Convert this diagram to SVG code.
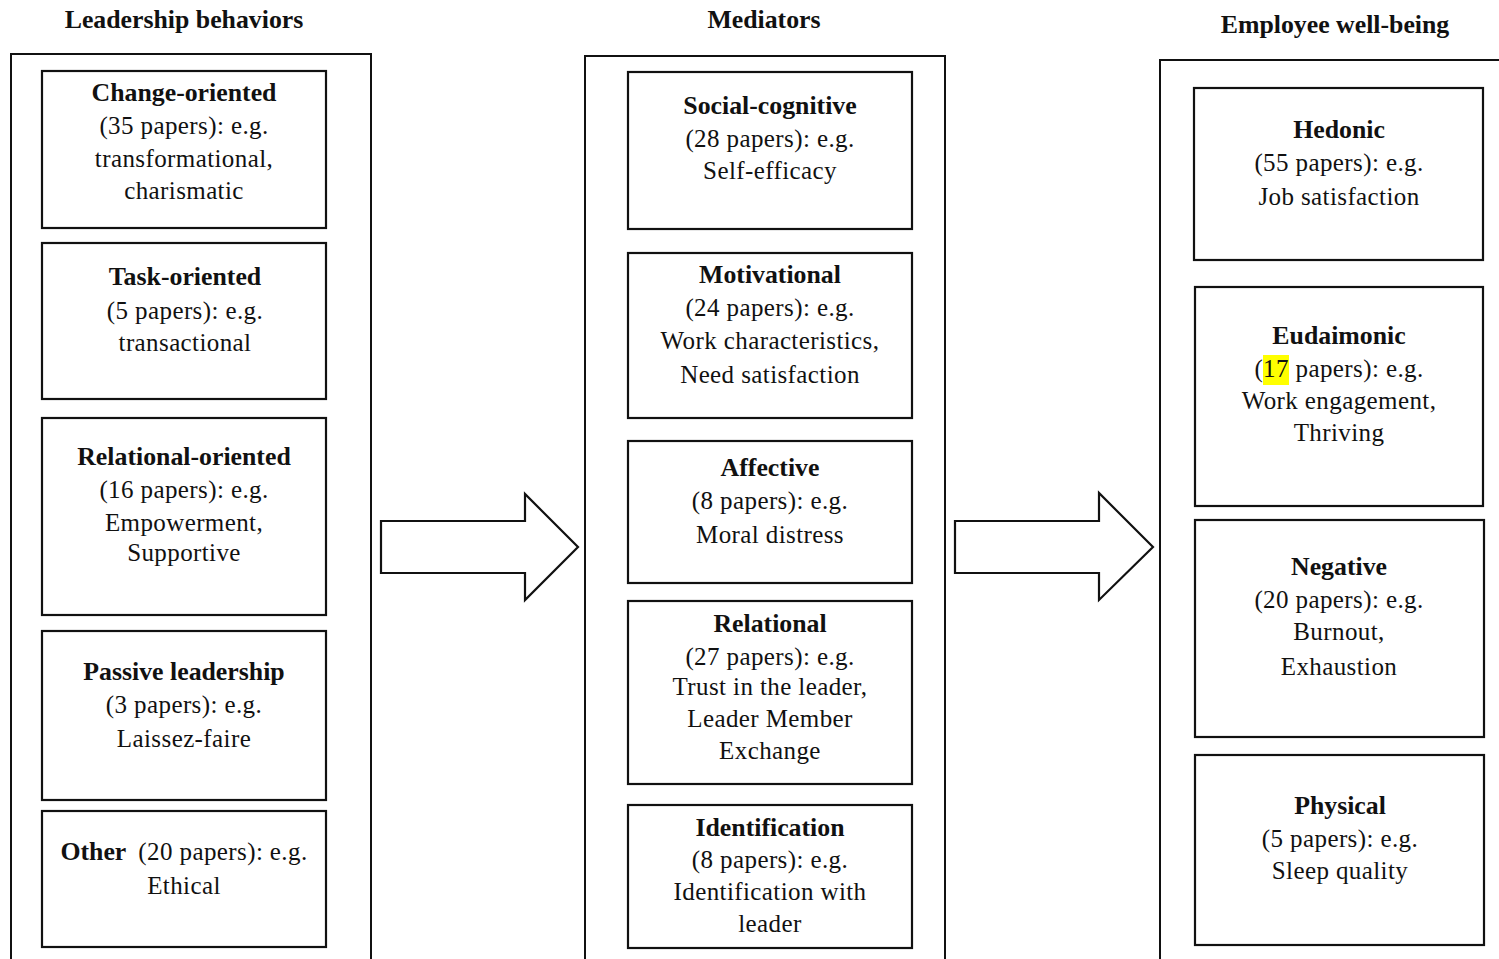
<svg xmlns="http://www.w3.org/2000/svg" width="1499" height="959" viewBox="0 0 1499 959">
<style>
.outer{fill:none;stroke:#111;stroke-width:2}
.box{fill:#fff;stroke:#111;stroke-width:2.2}
.arrow{fill:#fff;stroke:#111;stroke-width:2.2;stroke-linejoin:miter}
text{font-family:"Liberation Serif","Times New Roman",serif;fill:#111;text-anchor:middle}
.h{font-size:25.8px;font-weight:bold}
.t{font-size:25.8px;font-weight:bold}
.b{font-size:25px;letter-spacing:0.4px}
</style>
<rect width="1499" height="959" fill="#fff"/>
<g id="headers">
<text class="h" x="184" y="28">Leadership behaviors</text>
<text class="h" x="764" y="28">Mediators</text>
<text class="h" x="1335" y="33">Employee well-being</text>
</g>
<g id="columns">
<path class="outer" d="M11,970 V54 H371 V970"/>
<path class="outer" d="M585,970 V56 H945 V970"/>
<path class="outer" d="M1160,970 V60 H1510"/>
</g>
<g id="connectors">
<path class="arrow" d="M381,521 H525 V494 L578,547 L525,600 V573 H381 Z"/>
<path class="arrow" d="M955,521 H1099 V493 L1153,547 L1099,600 V573 H955 Z"/>
</g>
<g id="change-oriented">
<rect class="box" x="42" y="71" width="284" height="157"/>
<text class="t" x="184" y="101">Change-oriented</text>
<text class="b" x="184" y="134">(35 papers): e.g.</text>
<text class="b" x="184" y="167">transformational,</text>
<text class="b" x="184" y="199">charismatic</text>
</g>
<g id="task-oriented">
<rect class="box" x="42" y="243" width="284" height="156"/>
<text class="t" x="185" y="285">Task-oriented</text>
<text class="b" x="185" y="319">(5 papers): e.g.</text>
<text class="b" x="185" y="351">transactional</text>
</g>
<g id="relational-oriented">
<rect class="box" x="42" y="418" width="284" height="197"/>
<text class="t" x="184" y="465">Relational-oriented</text>
<text class="b" x="184" y="498">(16 papers): e.g.</text>
<text class="b" x="184" y="531">Empowerment,</text>
<text class="b" x="184" y="561">Supportive</text>
</g>
<g id="passive-leadership">
<rect class="box" x="42" y="631" width="284" height="169"/>
<text class="t" x="184" y="680">Passive leadership</text>
<text class="b" x="184" y="713">(3 papers): e.g.</text>
<text class="b" x="184" y="747">Laissez-faire</text>
</g>
<g id="other">
<rect class="box" x="42" y="811" width="284" height="136"/>
<text x="184" y="860"><tspan class="t">Other</tspan><tspan class="b" dx="12">(20 papers): e.g.</tspan></text>
<text class="b" x="184" y="894">Ethical</text>
</g>
<g id="social-cognitive">
<rect class="box" x="628" y="72" width="284" height="157"/>
<text class="t" x="770" y="114">Social-cognitive</text>
<text class="b" x="770" y="147">(28 papers): e.g.</text>
<text class="b" x="770" y="179">Self-efficacy</text>
</g>
<g id="motivational">
<rect class="box" x="628" y="253" width="284" height="165"/>
<text class="t" x="770" y="283">Motivational</text>
<text class="b" x="770" y="316">(24 papers): e.g.</text>
<text class="b" x="770" y="349">Work characteristics,</text>
<text class="b" x="770" y="383">Need satisfaction</text>
</g>
<g id="affective">
<rect class="box" x="628" y="441" width="284" height="142"/>
<text class="t" x="770" y="476">Affective</text>
<text class="b" x="770" y="509">(8 papers): e.g.</text>
<text class="b" x="770" y="543">Moral distress</text>
</g>
<g id="relational">
<rect class="box" x="628" y="601" width="284" height="183"/>
<text class="t" x="770" y="632">Relational</text>
<text class="b" x="770" y="665">(27 papers): e.g.</text>
<text class="b" x="770" y="695">Trust in the leader,</text>
<text class="b" x="770" y="727">Leader Member</text>
<text class="b" x="770" y="759">Exchange</text>
</g>
<g id="identification">
<rect class="box" x="628" y="805" width="284" height="143"/>
<text class="t" x="770" y="836">Identification</text>
<text class="b" x="770" y="868">(8 papers): e.g.</text>
<text class="b" x="770" y="900">Identification with</text>
<text class="b" x="770" y="932">leader</text>
</g>
<g id="hedonic">
<rect class="box" x="1194" y="88" width="289" height="172"/>
<text class="t" x="1339" y="138">Hedonic</text>
<text class="b" x="1339" y="171">(55 papers): e.g.</text>
<text class="b" x="1339" y="205">Job satisfaction</text>
</g>
<g id="eudaimonic">
<rect class="box" x="1195" y="287" width="288" height="219"/>
<rect x="1263" y="355" width="26" height="30" fill="#ffff00"/>
<text class="t" x="1339" y="344">Eudaimonic</text>
<text class="b" x="1339" y="377">(17 papers): e.g.</text>
<text class="b" x="1339" y="409">Work engagement,</text>
<text class="b" x="1339" y="441">Thriving</text>
</g>
<g id="negative">
<rect class="box" x="1195" y="520" width="289" height="217"/>
<text class="t" x="1339" y="575">Negative</text>
<text class="b" x="1339" y="608">(20 papers): e.g.</text>
<text class="b" x="1339" y="640">Burnout,</text>
<text class="b" x="1339" y="675">Exhaustion</text>
</g>
<g id="physical">
<rect class="box" x="1195" y="755" width="289" height="190"/>
<text class="t" x="1340" y="814">Physical</text>
<text class="b" x="1340" y="847">(5 papers): e.g.</text>
<text class="b" x="1340" y="879">Sleep quality</text>
</g>
</svg>
